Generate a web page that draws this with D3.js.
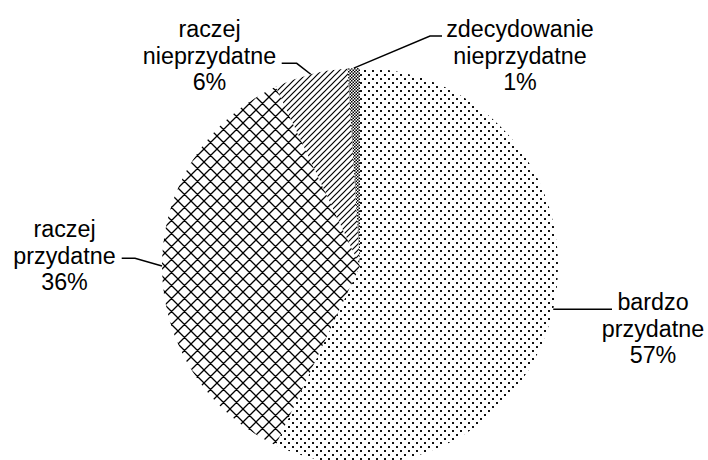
<!DOCTYPE html>
<html>
<head>
<meta charset="utf-8">
<script src="https://cdn.jsdelivr.net/npm/d3@7"></script>
<style>
  html, body { margin: 0; padding: 0; background: #fff; }
  svg { display: block; }
  text { font-family: "Liberation Sans", Arial, sans-serif; font-size: 23.3px; fill: #000; }
</style>
</head>
<body>
<svg id="chart" width="708" height="460"></svg>
<script>
/*
Data
*/

const categories = ["bardzo przydatne", "raczej przydatne", "raczej nieprzydatne", "zdecydowanie nieprzydatne"];
const values     = [57, 36, 6, 1];
const labelLines = [["bardzo", "przydatne"], ["raczej", "przydatne"], ["raczej", "nieprzydatne"], ["zdecydowanie", "nieprzydatne"]];
const patterns   = ["p-dots", "p-cross", "p-stripes", "p-checker"];

/*
Layout (label box centre, first baseline, leader elbow)
*/

const labelLayout = [
  { x: 653,   y: 310, leader: [[612, 309.3]] },
  { x: 64.5,  y: 237, leader: [[135, 258.3], [121.7, 258.3]] },
  { x: 209.5, y: 37,  leader: [[296.7, 63.3], [281.7, 63.3]] },
  { x: 520,   y: 37,  leader: [[430, 36], [442, 36]] }
];

/*
Prototype
*/

var PieChart = function (config) {
  return this.__init__(config);
};

PieChart.prototype = {

  __init__ : function (config) {
    let self = this;

    self.id     = config.id;
    self.cx     = config.cx;
    self.cy     = config.cy;
    self.radius = config.radius;
    self.lineHeight = 26.7;

    self.data = categories.map((c, i) => ({
      name: c, value: values[i], lines: labelLines[i], pattern: patterns[i]
    }));

    self.pie = d3.pie()
      .sort(null)
      .value(d => d.value)
      .startAngle(0)
      .endAngle(2 * Math.PI);

    self.arc = d3.arc()
      .innerRadius(0)
      .outerRadius(self.radius);

    return self;
  },

  defs : function () {
    let self = this;
    let defs = self.svg.append("defs");

    // dotted
    let dots = defs.append("pattern").attr("id", "p-dots")
      .attr("patternUnits", "userSpaceOnUse").attr("width", 8).attr("height", 8);
    dots.append("rect").attr("width", 8).attr("height", 8).attr("fill", "#fff");
    dots.append("rect").attr("x", 0).attr("y", 0).attr("width", 2).attr("height", 2).attr("fill", "#111");
    dots.append("rect").attr("x", 4).attr("y", 4).attr("width", 2).attr("height", 2).attr("fill", "#111");

    // diagonal cross
    let s = 13;
    let cross = defs.append("pattern").attr("id", "p-cross")
      .attr("patternUnits", "userSpaceOnUse").attr("width", s).attr("height", s);
    cross.append("rect").attr("width", s).attr("height", s).attr("fill", "#fff");
    cross.append("path")
      .attr("d", "M0,0L" + s + "," + s + "M" + s + ",0L0," + s +
                 "M-2,2L2,-2M" + (s - 2) + "," + (s + 2) + "L" + (s + 2) + "," + (s - 2) +
                 "M-2," + (s - 2) + "L2," + (s + 2) + "M" + (s - 2) + ",-2L" + (s + 2) + ",2")
      .attr("stroke", "#000").attr("stroke-width", 1.3).attr("fill", "none");

    // upward diagonal stripes
    let stripes = defs.append("pattern").attr("id", "p-stripes")
      .attr("patternUnits", "userSpaceOnUse").attr("width", 6).attr("height", 6);
    stripes.append("rect").attr("width", 6).attr("height", 6).attr("fill", "#fff");
    stripes.append("path")
      .attr("d", "M0,6L6,0M-1,1L1,-1M5,7L7,5")
      .attr("stroke", "#000").attr("stroke-width", 1.2).attr("fill", "none");

    // small checker
    let checker = defs.append("pattern").attr("id", "p-checker")
      .attr("patternUnits", "userSpaceOnUse").attr("width", 3).attr("height", 3);
    checker.append("rect").attr("width", 3).attr("height", 3).attr("fill", "#fff");
    checker.append("rect").attr("x", 0).attr("y", 0).attr("width", 1.5).attr("height", 1.5).attr("fill", "#000");
    checker.append("rect").attr("x", 1.5).attr("y", 1.5).attr("width", 1.5).attr("height", 1.5).attr("fill", "#000");

    return self;
  },

  update : function () {
    let self = this;

    self.svg = d3.select(self.id);
    self.defs();

    let g = self.svg.append("g")
      .attr("transform", "translate(" + self.cx + "," + self.cy + ")");

    let arcs = self.pie(self.data);

    g.selectAll(".slice")
      .data(arcs)
      .enter().append("path")
      .attr("class", "slice")
      .attr("d", self.arc)
      .attr("fill", d => "url(#" + d.data.pattern + ")");

    // leader lines: from pie edge at slice middle to label
    let line = d3.line();
    self.svg.append("g")
      .selectAll(".leader")
      .data(arcs)
      .enter().append("path")
      .attr("class", "leader")
      .attr("fill", "none")
      .attr("stroke", "#000")
      .attr("stroke-width", 1.5)
      .attr("d", function (d, i) {
        let a = (d.startAngle + d.endAngle) / 2;
        let edge = [self.cx + self.radius * Math.sin(a), self.cy - self.radius * Math.cos(a)];
        let pts = [edge].concat(labelLayout[i].leader);
        // bardzo przydatne leader is horizontal
        if (i === 0) pts[1] = [pts[1][0], edge[1]];
        return line(pts);
      });

    // labels
    let labels = self.svg.append("g")
      .selectAll(".label")
      .data(arcs)
      .enter().append("text")
      .attr("class", "label")
      .attr("text-anchor", "middle");

    labels.each(function (d, i) {
      let t = d3.select(this);
      let L = labelLayout[i];
      let rows = d.data.lines.concat([d.data.value + "%"]);
      rows.forEach(function (r, j) {
        t.append("tspan")
          .attr("x", L.x)
          .attr("y", L.y + j * self.lineHeight)
          .text(r);
      });
    });

    return self;
  }

};

new PieChart({ id: "#chart", cx: 360, cy: 266, radius: 198 }).update();
</script>
</body>
</html>
